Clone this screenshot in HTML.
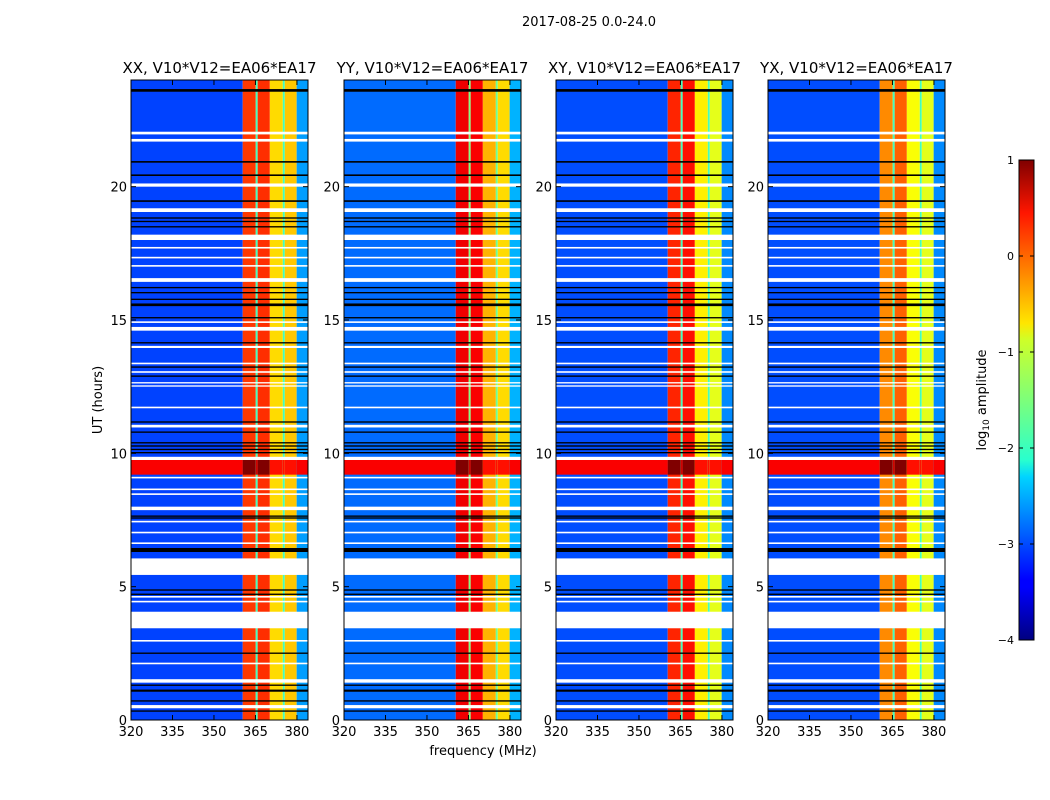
<!DOCTYPE html>
<html><head><meta charset="utf-8">
<style>
body{margin:0;background:#fff;}
svg{display:block;font-family:"DejaVu Sans","Liberation Sans",sans-serif;}
</style></head>
<body>
<svg id="fig" width="1050" height="800" xmlns="http://www.w3.org/2000/svg">
<rect width="1050" height="800" fill="#fff"/>
<text x="589" y="26" font-size="13" text-anchor="middle">2017-08-25 0.0-24.0</text>
<text x="0" y="0" font-size="13" text-anchor="middle" transform="translate(102,400) rotate(-90)">UT (hours)</text>
<text x="483" y="755" font-size="13" text-anchor="middle">frequency (MHz)</text>
<g id="panels"></g>
<defs>
<linearGradient id="jet" x1="0" y1="1" x2="0" y2="0">
<stop offset="0" stop-color="#000080"/><stop offset="0.11" stop-color="#0000ff"/>
<stop offset="0.125" stop-color="#0000ff"/><stop offset="0.34" stop-color="#00d4ff"/>
<stop offset="0.375" stop-color="#29ffce"/><stop offset="0.5" stop-color="#7dff7a"/>
<stop offset="0.625" stop-color="#ceff29"/><stop offset="0.66" stop-color="#ffe600"/>
<stop offset="0.89" stop-color="#ff1600"/><stop offset="1" stop-color="#800000"/>
</linearGradient>
</defs>
<rect x="1019" y="160" width="15" height="480" fill="url(#jet)" stroke="#000" stroke-width="1"/>
<g id="cbticks"></g>
<text font-size="13" text-anchor="middle" transform="translate(986,400) rotate(-90)">log<tspan font-size="9" dy="3">10</tspan><tspan dy="-3"> amplitude</tspan></text>
</svg>
<script>
// frequency band edges (MHz)
const bandEdges = [320, 360.4, 365.1, 365.8, 370.2, 374.9, 375.6, 379.9, 384];
// log10 amplitude per band for each panel
const panelNames = ["XX", "YY", "XY", "YX"];
const bandLevels = [
  [-3.05, 0.1, -1.8, 0.15, -0.7, -1.8, -0.6, -2.6],
  [-2.85, 0.45, -1.5, 0.4, -0.5, -1.6, -0.7, -2.5],
  [-3.0, 0.2, -1.8, 0.3, -0.8, -1.8, -1.0, -2.7],
  [-3.0, -0.3, -1.8, -0.1, -0.9, -1.8, -1.0, -2.7]
];
// bright RFI band in time
const flareStart = 9.2, flareEnd = 9.75;
const flareLevels = [0.4, 1.0, 0.6, 1.0, 0.3, 0.3, 0.3, 0.4];
// flagged rows (hours): white = blank
const whiteRows = [[21.96,0.1],[21.69,0.1],[20.0,0.12],[19.05,0.14],[18.0,0.2],[17.68,0.06],[17.31,0.06],[17.0,0.06],[16.43,0.14],[15.56,0.05],[14.89,0.06],[14.6,0.14],[13.95,0.08],[13.34,0.06],[13.02,0.06],[12.62,0.05],[12.5,0.05],[11.69,0.06],[10.97,0.1],[9.75,0.12],[9.06,0.06],[8.62,0.06],[8.44,0.06],[7.87,0.13],[7.41,0.06],[7.0,0.06],[6.6,0.06],[5.44,0.62],[4.59,0.06],[4.41,0.06],[3.44,0.62],[2.94,0.06],[2.09,0.06],[1.4,0.13],[0.44,0.12]];
// black rows
const blackRows = [[23.56,0.1],[20.9,0.06],[20.4,0.06],[19.43,0.06],[18.8,0.05],[18.67,0.05],[18.47,0.05],[16.19,0.05],[16.0,0.05],[15.75,0.05],[15.52,0.1],[15.06,0.05],[14.12,0.05],[13.21,0.05],[12.87,0.05],[11.15,0.05],[10.77,0.05],[10.37,0.05],[10.25,0.05],[10.12,0.05],[10.0,0.05],[7.62,0.05],[7.55,0.05],[6.3,0.15],[4.85,0.05],[4.69,0.05],[2.48,0.05],[1.28,0.05],[1.06,0.08],[0.69,0.05],[0.31,0.05]];
const xTicks = [320, 335, 350, 365, 380];
const yTicks = [0, 5, 10, 15, 20];
const cbTicks = [1, 0, -1, -2, -3, -4];
const panelLeft = [131, 344, 556, 768];

function jet(v){
  let t = Math.max(0, Math.min(1, (v + 4) / 5));
  const c = x => Math.round(255 * Math.max(0, Math.min(1, x)));
  return `rgb(${c(1.5-Math.abs(4*t-3))},${c(1.5-Math.abs(4*t-2))},${c(1.5-Math.abs(4*t-1))})`;
}
const NS = "http://www.w3.org/2000/svg";
function mk(tag, attrs, parent){
  const e = document.createElementNS(NS, tag);
  for (const k in attrs) e.setAttribute(k, attrs[k]);
  parent.appendChild(e); return e;
}
const root = document.getElementById("panels");
const W = 177, yTop = 80, yBot = 720;
panelNames.forEach((name, p) => {
  const x0 = panelLeft[p];
  const xs = f => x0 + (f - 320) / (384 - 320) * W;
  const ys = h => yBot - h / 24 * (yBot - yTop);
  const g = mk("g", {}, root);
  
  
  for (let i = 0; i < bandLevels[p].length; i++) {
    const r = mk("rect", {x: xs(bandEdges[i]), y: yTop, width: xs(bandEdges[i+1]) - xs(bandEdges[i]), height: yBot - yTop, fill: jet(bandLevels[p][i])}, g);
    
    
    const f = mk("rect", {x: xs(bandEdges[i]), y: ys(flareEnd), width: xs(bandEdges[i+1]) - xs(bandEdges[i]), height: ys(flareStart) - ys(flareEnd), fill: jet(flareLevels[i])}, g);
    
    
  }
  whiteRows.forEach(([h, d]) => {
    const r = mk("rect", {x: x0, y: ys(h + d), width: W, height: Math.max(1, ys(h) - ys(h + d)), fill: "#fff"}, g);
    
    
  });
  blackRows.forEach(([h, d]) => {
    const r = mk("rect", {x: x0, y: ys(h + d), width: W, height: Math.max(1, ys(h) - ys(h + d)), fill: "#000"}, g);
    
    
  });
  const fr = mk("rect", {x: x0, y: yTop, width: W, height: yBot - yTop, fill: "none", stroke: "#000", "stroke-width": 1}, g);
  
  
  const t = mk("text", {x: x0 + W/2, y: 73, "font-size": 15, "text-anchor": "middle"}, g);
  t.textContent = name + ", V10*V12=EA06*EA17";
  
  
  xTicks.forEach(v => {
    mk("line", {x1: xs(v), x2: xs(v), y1: yBot, y2: yBot - 5, stroke: "#000"}, g);
    mk("line", {x1: xs(v), x2: xs(v), y1: yTop, y2: yTop + 5, stroke: "#000"}, g);
    const l = mk("text", {x: xs(v), y: yBot + 16, "font-size": 13, "text-anchor": "middle"}, g);
    l.textContent = v;
    
    
  });
  yTicks.forEach(v => {
    mk("line", {x1: x0, x2: x0 + 5, y1: ys(v), y2: ys(v), stroke: "#000"}, g);
    mk("line", {x1: x0 + W, x2: x0 + W - 5, y1: ys(v), y2: ys(v), stroke: "#000"}, g);
    const l = mk("text", {x: x0 - 4, y: ys(v) + 5, "font-size": 13, "text-anchor": "end"}, g);
    l.textContent = v;
    
    
  });
});
const cb = document.getElementById("cbticks");
cbTicks.forEach(v => {
  const y = 160 + (1 - v) / 5 * 480;
  mk("line", {x1: 1019, x2: 1023, y1: y, y2: y, stroke: "#000"}, cb);
  mk("line", {x1: 1030, x2: 1034, y1: y, y2: y, stroke: "#000"}, cb);
  const l = mk("text", {x: 1014, y: y + 4, "font-size": 11, "text-anchor": "end"}, cb);
  l.textContent = v < 0 ? "\u2212" + (-v) : String(v);
  
  
});
</script>
</body></html>
